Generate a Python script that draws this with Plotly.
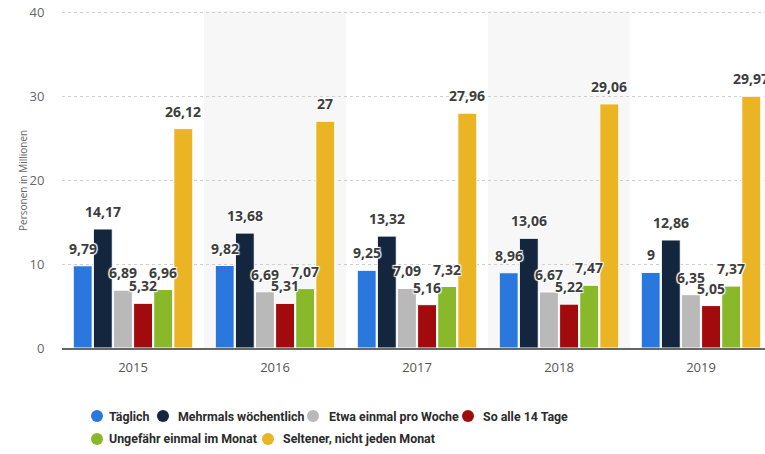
import plotly.graph_objects as go

years = ["2015", "2016", "2017", "2018", "2019"]
series_names = ["Täglich", "Mehrmals wöchentlich", "Etwa einmal pro Woche",
                "So alle 14 Tage", "Ungefähr einmal im Monat", "Seltener, nicht jeden Monat"]
taeglich = [9.79, 9.82, 9.25, 8.96, 9.0]
mehrmals = [14.17, 13.68, 13.32, 13.06, 12.86]
etwa_woche = [6.89, 6.69, 7.09, 6.67, 6.35]
alle_14 = [5.32, 5.31, 5.16, 5.22, 5.05]
einmal_monat = [6.96, 7.07, 7.32, 7.47, 7.37]
seltener = [26.12, 27.0, 27.96, 29.06, 29.97]
y_ticks = [0, 10, 20, 30, 40]

series_values = [taeglich, mehrmals, etwa_woche, alle_14, einmal_monat, seltener]
colors = ["#2a78dd", "#13263e", "#b9b9b9", "#a20b0e", "#89b92b", "#ebb425"]

BARGAP = 0.15
BARGROUPGAP = 0.06

# layout geometry (pixels; page body margin is removed via post_script)
W, H = 765, 454
ML, MR, MT, MB = 62, 0, 11, 106
PW, PH = W - ML - MR, H - MT - MB
Y_TOP = 40.12


def px_x(px):
    return (px - ML) / PW


def px_y(py):
    return (H - MB - py) / PH


def fmt(v):
    s = ("%.2f" % v).rstrip("0").rstrip(".")
    return s.replace(".", ",")


fig = go.Figure()

# shaded alternating bands
for i in (1, 3):
    fig.add_shape(type="rect", xref="x", yref="paper", x0=i - 0.5, x1=i + 0.5,
                  y0=0, y1=1.0, fillcolor="#f7f7f7", line_width=0, layer="below")

for name, vals, col in zip(series_names, series_values, colors):
    fig.add_trace(go.Bar(x=list(range(len(years))), y=vals, name=name,
                         marker=dict(color=col, line=dict(color="white", width=1)),
                         showlegend=False, hoverinfo="skip"))

# value labels
n = len(series_values)
slot = (1 - BARGAP) / n
shadow = "1px 1px 1px #fff, -1px -1px 1px #fff, 1px -1px 1px #fff, -1px 1px 1px #fff"
for k, vals in enumerate(series_values):
    for i, v in enumerate(vals):
        xc = i - (1 - BARGAP) / 2 + (k + 0.5) * slot
        fig.add_annotation(x=xc, y=v, xref="x", yref="y", text=fmt(v),
                           showarrow=False, yanchor="bottom", yshift=6,
                           font=dict(family="Open Sans", size=14, color="#3d3d3d",
                                     weight="bold", shadow=shadow))

# legend (circle markers + labels), two rows as in the original
legend_marker_px = [(97, 416), (163, 416), (313, 416), (468, 416), (97, 439), (268, 439)]
legend_text_px = [107, 176, 327, 481, 107, 281]
legend_font = dict(family="Roboto", size=12.4, color="#2b2b2b", weight="bold")
for name, col, (mx, my), tx in zip(series_names, colors, legend_marker_px, legend_text_px):
    fig.add_shape(type="circle", xref="paper", yref="paper",
                  xsizemode="pixel", ysizemode="pixel",
                  xanchor=px_x(mx), yanchor=px_y(my), x0=-6, x1=6, y0=-6, y1=6,
                  fillcolor=col, line_width=0)
    fig.add_annotation(text=name, xref="paper", yref="paper", x=px_x(tx), y=px_y(my),
                       xanchor="left", yanchor="middle", showarrow=False,
                       font=legend_font)

fig.update_layout(
    width=W, height=H,
    margin=dict(l=ML, r=MR, t=MT, b=MB),
    paper_bgcolor="white", plot_bgcolor="white",
    barmode="group", bargap=BARGAP, bargroupgap=BARGROUPGAP,
    font=dict(family="Open Sans", color="#555"),
    showlegend=False,
    xaxis=dict(range=[-0.5, -0.5 + PW / 142], tickmode="array",
               tickvals=list(range(len(years))), ticktext=years,
               showgrid=False, showline=True, linecolor="#666", linewidth=2,
               ticks="outside", ticklen=6, tickcolor="rgba(0,0,0,0)",
               tickfont=dict(family="Open Sans", size=13, color="#555"),
               zeroline=False, automargin=False),
    yaxis=dict(range=[0, Y_TOP], tickvals=y_ticks, showgrid=True, gridcolor="#cfcfcf",
               griddash="dot", gridwidth=1, zeroline=False,
               ticks="outside", ticklen=14, tickcolor="rgba(0,0,0,0)",
               tickfont=dict(family="Open Sans", size=13, color="#666"),
               ticklabeloverflow="allow", automargin=False),
)

fig.add_annotation(text="Personen in Millionen", xref="paper", yref="paper",
                   x=px_x(14), y=px_y(180), textangle=-90, showarrow=False,
                   font=dict(family="Open Sans", size=10, color="#666"))

fig.write_html("out.html", config={"displayModeBar": False},
               post_script="document.body.style.margin='0';document.body.style.overflow='hidden';")
